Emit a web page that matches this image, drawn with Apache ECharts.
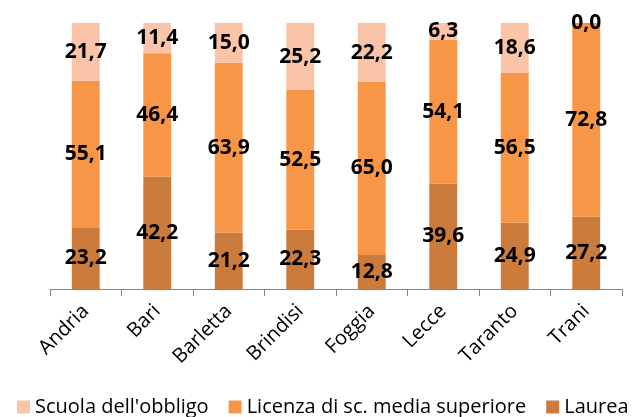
<!DOCTYPE html>
<html>
<head>
<meta charset="utf-8">
<script src="https://cdn.jsdelivr.net/npm/echarts@6/dist/echarts.min.js"></script>
<style>
  html, body { margin: 0; padding: 0; background: #fff; }
  #chart { width: 636px; height: 417px; }
</style>
</head>
<body>
<div id="chart"></div>
<script>
var cities = ['Andria', 'Bari', 'Barletta', 'Brindisi', 'Foggia', 'Lecce', 'Taranto', 'Trani'];
var laurea = [23.2, 42.2, 21.2, 22.3, 12.8, 39.6, 24.9, 27.2];
var licenza = [55.1, 46.4, 63.9, 52.5, 65.0, 54.1, 56.5, 72.8];
var obbligo = [21.7, 11.4, 15.0, 25.2, 22.2, 6.3, 18.6, 0.0];

var FONT = '"Open Sans", sans-serif';

function fmt(p) {
    return p.value.toFixed(1).replace('.', ',');
}

function makeSeries(name, data, color) {
    return {
        name: name,
        type: 'bar',
        stack: 'tot',
        data: data,
        barWidth: '39%',
        itemStyle: { color: color },
        label: {
            show: true,
            position: 'inside',
            formatter: fmt,
            color: '#000',
            fontFamily: FONT,
            fontWeight: 'bold',
            fontSize: 21
        }
    };
}

var chart = echarts.init(document.getElementById('chart'));
chart.setOption({
    animation: false,
    grid: { left: 50, right: 14, top: 23, bottom: 128 },
    legend: {
        left: 12,
        top: 392,
        itemWidth: 13,
        itemHeight: 13,
        itemGap: 20,
        icon: 'rect',
        textStyle: { fontFamily: FONT, fontSize: 20, color: '#000' },
        data: ["Scuola dell'obbligo", 'Licenza di sc. media superiore', 'Laurea']
    },
    xAxis: {
        type: 'category',
        data: cities,
        axisLine: { lineStyle: { color: '#868686', width: 1 } },
        axisTick: { show: true, length: 7, lineStyle: { color: '#868686' } },
        axisLabel: {
            rotate: 45,
            margin: 19,
            color: '#000',
            fontFamily: FONT,
            fontSize: 20
        }
    },
    yAxis: {
        type: 'value',
        min: 0,
        max: 100,
        show: false,
        splitLine: { show: false }
    },
    series: [
        makeSeries('Laurea', laurea, '#cb7b3b'),
        makeSeries('Licenza di sc. media superiore', licenza, '#f79646'),
        makeSeries("Scuola dell'obbligo", obbligo, '#fac4a8')
    ]
});
</script>
</body>
</html>
